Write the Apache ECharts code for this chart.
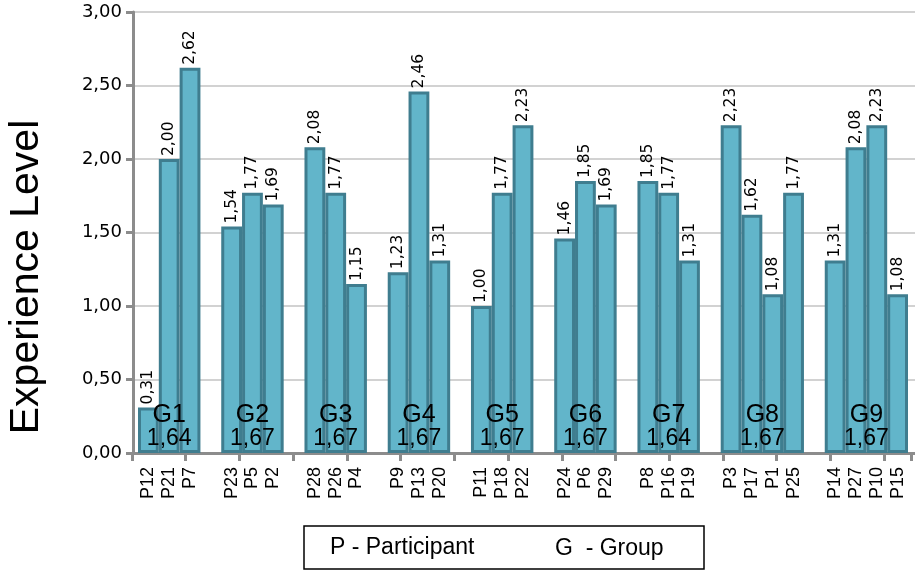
<!DOCTYPE html>
<html>
<head>
<meta charset="utf-8">
<script src="https://cdn.jsdelivr.net/npm/echarts@6/dist/echarts.min.js"></script>
<style>
  html, body { margin: 0; padding: 0; background: #fff; }
  #chart { width: 915px; height: 573px; }
</style>
</head>
<body>
<div id="chart"></div>
<script>
// Participants, in plotting order, grouped G1..G9
const participants = ['P12','P21','P7', 'P23','P5','P2', 'P28','P26','P4', 'P9','P13','P20',
  'P11','P18','P22', 'P24','P6','P29', 'P8','P16','P19', 'P3','P17','P1','P25', 'P14','P27','P10','P15'];
const experience = [0.31,2.00,2.62, 1.54,1.77,1.69, 2.08,1.77,1.15, 1.23,2.46,1.31,
  1.00,1.77,2.23, 1.46,1.85,1.69, 1.85,1.77,1.31, 2.23,1.62,1.08,1.77, 1.31,2.08,2.23,1.08];
const groupNames = ['G1','G2','G3','G4','G5','G6','G7','G8','G9'];
const groupSizes = [3,3,3,3,3,3,3,4,4];
const groupMeans = [1.64,1.67,1.67,1.67,1.67,1.67,1.64,1.67,1.67];
const yTicks = [0, 0.5, 1, 1.5, 2, 2.5, 3];

const fmt = v => Number(v).toFixed(2).replace('.', ',');

// Category slots: one per participant, with an empty slot between groups
const slots = [];
const slotValues = [];
const groupSpans = [];
let p = 0;
groupSizes.forEach((n, g) => {
  if (g > 0) { slots.push(''); slotValues.push('-'); }
  const first = slots.length;
  for (let i = 0; i < n; i++, p++) {
    slots.push(participants[p]);
    slotValues.push(experience[p]);
  }
  groupSpans.push([first, slots.length - 1]);
});

const axisGray = '#8c8c8c';
const chart = echarts.init(document.getElementById('chart'));

chart.setOption({
  animation: false,
  grid: [
    { left: 138, right: 7, top: 12, bottom: 120 },   // bars
    { left: 133, right: 0, top: 12, bottom: 120 },   // frame: y axis, gridlines, base line
    { left: 132, right: 4, top: 12, bottom: 120 }    // evenly spaced category ticks
  ],
  xAxis: [
    {
      type: 'category', gridIndex: 0, data: slots,
      axisLine: { show: false }, axisTick: { show: false },
      axisLabel: {
        interval: 0, rotate: 90, margin: 14,
        fontFamily: 'Liberation Sans', fontSize: 18, color: '#000'
      }
    },
    {
      type: 'value', gridIndex: 1, min: 0, max: 1,
      axisLine: { show: true, onZero: false, lineStyle: { color: axisGray, width: 3 } },
      axisTick: { show: false }, axisLabel: { show: false }, splitLine: { show: false }
    },
    {
      type: 'category', gridIndex: 2, data: participants,
      axisLine: { show: false },
      axisTick: { show: true, length: 8, lineStyle: { color: axisGray, width: 3 } },
      axisLabel: { show: false }
    }
  ],
  yAxis: [
    { type: 'value', gridIndex: 0, min: 0, max: 3, interval: 0.5, show: false },
    {
      type: 'value', gridIndex: 1, min: 0, max: 3, interval: 0.5,
      axisLine: { show: true, lineStyle: { color: axisGray, width: 3 } },
      axisTick: { show: true, length: 7, lineStyle: { color: axisGray, width: 3 } },
      axisLabel: {
        margin: 11, fontFamily: 'DejaVu Sans', fontSize: 18, color: '#000',
        formatter: v => yTicks.includes(v) ? fmt(v) : ''
      },
      splitLine: { show: true, lineStyle: { color: '#d2d2d2', width: 2 } }
    },
    { type: 'value', gridIndex: 2, min: 0, max: 3, show: false }
  ],
  series: [
    {
      type: 'bar', xAxisIndex: 0, yAxisIndex: 0,
      data: slotValues,
      barCategoryGap: '0%',
      itemStyle: { color: '#62b5ca', borderColor: '#3f7d8f', borderWidth: 3 },
      label: {
        show: true, position: 'top', rotate: 90, align: 'left', verticalAlign: 'middle',
        distance: 3, fontFamily: 'DejaVu Sans', fontSize: 15.5, color: '#000',
        formatter: d => fmt(d.value)
      },
      z: 3
    },
    {
      // group name and group mean, centred over each group of bars
      type: 'custom', xAxisIndex: 0, yAxisIndex: 0,
      data: groupSpans,
      encode: { x: [0, 1] },
      renderItem: (params, api) => {
        const a = api.coord([api.value(0), 0]);
        const b = api.coord([api.value(1), 0]);
        const cx = (a[0] + b[0]) / 2;
        const i = params.dataIndex;
        return {
          type: 'group',
          children: [
            { type: 'text', style: { x: cx, y: a[1] - 38, text: groupNames[i], align: 'center',
                verticalAlign: 'middle', fontFamily: 'Liberation Sans', fontSize: 25, fill: '#000' } },
            { type: 'text', style: { x: cx, y: a[1] - 14, text: fmt(groupMeans[i]), align: 'center',
                verticalAlign: 'middle', fontFamily: 'Liberation Sans', fontSize: 23, fill: '#000' } }
          ]
        };
      },
      z: 5
    }
  ],
  graphic: [
    {
      type: 'text', x: 27, y: 277, rotation: Math.PI / 2,
      style: { text: 'Experience Level', align: 'center', verticalAlign: 'middle',
        fontFamily: 'Liberation Sans', fontSize: 41, fill: '#000' }
    },
    {
      type: 'rect', shape: { x: 304, y: 526, width: 400, height: 43 },
      style: { fill: '#fff', stroke: '#000', lineWidth: 1.5 }
    },
    {
      type: 'text', x: 330, y: 548,
      style: { text: 'P - Participant', verticalAlign: 'middle',
        fontFamily: 'Liberation Sans', fontSize: 23, fill: '#000' }
    },
    {
      type: 'text', x: 555, y: 549,
      style: { text: 'G  - Group', verticalAlign: 'middle',
        fontFamily: 'Liberation Sans', fontSize: 23, fill: '#000' }
    }
  ]
});
</script>
</body>
</html>
